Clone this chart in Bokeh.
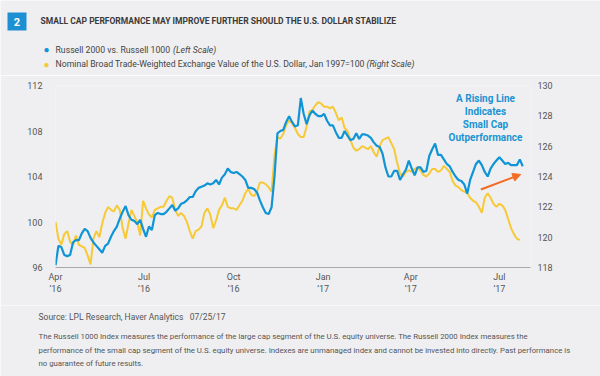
from datetime import datetime
import pandas as pd
from bokeh.plotting import figure
from bokeh.models import (Range1d, LinearAxis, FixedTicker, Label, Arrow, NormalHead,
                          BoxAnnotation, ColumnDataSource)
from bokeh.embed import file_html
from bokeh.resources import INLINE

# ---------------- data ----------------
start_date = "2016-04-01"
step = "3D"

russell_ratio = [
    96.2, 97.9, 97.8, 97.1, 97.0, 97.1, 98.2, 98.4, 98.4, 99.0,
    99.4, 99.2, 98.6, 98.2, 97.9, 97.6, 97.3, 97.9, 98.1, 98.7,
    99.2, 99.6, 100.3, 100.9, 101.4, 100.6, 100.2, 100.1, 99.8, 100.2,
    99.4, 98.7, 99.6, 99.3, 100.6, 100.8, 100.7, 100.7, 100.9, 101.2,
    101.5, 101.0, 101.2, 101.6, 101.7, 101.9, 102.2, 102.2, 102.7, 103.0,
    103.1, 103.2, 103.4, 103.3, 103.4, 103.7, 103.3, 103.9, 104.2, 104.7,
    104.4, 104.3, 104.4, 104.2, 104.0, 103.7, 103.0, 103.0, 102.9, 102.6,
    101.9, 101.3, 100.8, 100.7, 101.3, 104.0, 107.8, 108.0, 108.1, 108.8,
    109.3, 108.8, 108.4, 108.5, 110.9, 109.5, 108.6, 109.4, 109.8, 109.5,
    109.3, 109.3, 109.5, 108.9, 108.5, 108.5, 107.9, 107.4, 107.4, 108.0,
    107.6, 107.2, 107.3, 107.8, 107.3, 107.7, 107.7, 107.6, 107.4, 107.0,
    106.7, 106.6, 106.0, 104.8, 104.0, 104.0, 104.5, 104.5, 103.7, 104.2,
    104.6, 105.4, 104.7, 104.1, 104.8, 104.8, 104.4, 104.5, 105.8, 106.4,
    106.9, 105.9, 105.9, 105.5, 105.1, 104.9, 104.4, 104.0, 103.7, 103.6,
    103.3, 102.5, 103.7, 104.4, 105.1, 105.4, 105.0, 104.4, 104.0, 104.7,
    105.1, 105.4, 105.7, 105.4, 105.1, 105.2, 105.0, 105.0, 105.0, 105.5,
    104.9,
]

usd_index = [
    121.0, 119.9, 119.5, 120.2, 120.4, 119.7, 119.5, 120.1, 119.5, 119.4,
    119.3, 118.8, 118.2, 119.9, 120.4, 120.0, 120.9, 121.6, 122.0, 121.8,
    121.7, 122.1, 121.8, 120.6, 119.9, 120.9, 121.8, 121.4, 121.0, 120.1,
    122.4, 121.9, 121.5, 121.3, 121.8, 121.9, 122.0, 122.0, 122.4, 122.7,
    122.6, 121.8, 121.4, 121.6, 121.4, 121.0, 120.4, 119.9, 120.4, 120.5,
    120.7, 121.6, 121.9, 121.5, 120.6, 121.1, 121.8, 122.1, 122.6, 122.0,
    121.9, 121.9, 121.8, 122.1, 122.4, 122.9, 123.2, 122.8, 122.7, 123.0,
    123.6, 123.6, 123.5, 123.3, 123.0, 125.4, 126.6, 126.5, 126.8, 127.4,
    127.7, 127.5, 127.2, 126.8, 126.6, 126.6, 127.3, 128.3, 128.4, 128.7,
    128.9, 128.8, 128.6, 128.6, 128.5, 128.6, 128.2, 127.7, 127.9, 127.2,
    127.0, 126.4, 125.9, 125.7, 125.8, 126.0, 125.9, 125.8, 126.0, 125.6,
    125.3, 126.0, 126.4, 126.5, 126.6, 126.2, 125.8, 124.9, 124.2, 124.0,
    124.3, 124.4, 124.3, 124.5, 124.6, 124.4, 124.1, 124.0, 124.2, 124.5,
    124.5, 124.3, 124.4, 124.7, 124.5, 124.3, 123.7, 123.4, 123.3, 123.1,
    123.0, 122.9, 122.6, 122.4, 122.3, 122.0, 121.6, 122.6, 122.9, 122.6,
    122.2, 122.0, 122.2, 122.1, 121.8, 121.2, 120.6, 120.2, 119.9, 119.8,
]

x_tick_dates = ["2016-04-01", "2016-07-01", "2016-10-01", "2017-01-01", "2017-04-01", "2017-07-01"]
x_tick_labels = ["Apr\n\u201916", "Jul\n\u201916", "Oct\n\u201916", "Jan\n\u201917", "Apr\n\u201917", "Jul\n\u201917"]
left_ticks = [96, 100, 104, 108, 112]
right_ticks = [118, 120, 122, 124, 126, 128, 130]

badge_text = "2"
title_text = "SMALL CAP PERFORMANCE MAY IMPROVE FURTHER SHOULD THE U.S. DOLLAR STABILIZE"
legend_1 = "Russell 2000 vs. Russell 1000"
legend_1_scale = "(Left Scale)"
legend_2 = "Nominal Broad Trade-Weighted Exchange Value of the U.S. Dollar, Jan 1997=100"
legend_2_scale = "(Right Scale)"
note_lines = ["A Rising Line", "Indicates", "Small Cap", "Outperformance"]
source_text = "Source: LPL Research, Haver Analytics\u00a0\u00a0\u00a007/25/17"
footnote_lines = [
    "The Russell 1000 Index measures the performance of the large cap segment of the U.S. equity universe. The Russell 2000 Index measures the",
    "performance of the small cap segment of the U.S. equity universe. Indexes are unmanaged index and cannot be invested into directly. Past performance is",
    "no guarantee of future results.",
]
arrow_from = ("2017-06-12", 102.86)
arrow_to = ("2017-07-23", 104.18)

# ---------------- styling ----------------
BG = "#EFEFF1"
BLUE = "#0F94D6"
YELLOW = "#F7C936"
ORANGE = "#F26B21"
TXT = "#3A3A3A"
GREY = "#555555"
FONT = "Roboto"

W = 600
HEAD_H, MAIN_H = 75, 230
FOOT_H = 376 - HEAD_H - MAIN_H


def panel(h):
    # frame covers the whole canvas: data units == canvas pixels
    f = figure(width=W, height=h, x_range=Range1d(0, W), y_range=Range1d(h, 0),
               output_backend="svg", toolbar_location=None,
               x_axis_location=None, y_axis_location=None,
               min_border=0, min_border_left=0, min_border_right=0,
               min_border_top=0, min_border_bottom=0)
    f.background_fill_color = BG
    f.border_fill_color = BG
    f.outline_line_color = None
    f.grid.grid_line_color = None
    return f


def lab(fig, x, y, text, size, color, style="normal", align="left", units="data"):
    fig.add_layout(Label(x=x, y=y, x_units=units, y_units=units, text=text,
                         text_font=FONT, text_font_size=size, text_color=color,
                         text_font_style=style, text_align=align,
                         text_baseline="middle"))


# ---------------- header ----------------
head = panel(HEAD_H)
head.add_layout(BoxAnnotation(left=7, right=26, top=12, bottom=30,
                              fill_color="#1D90D4", fill_alpha=1, line_color=None))
lab(head, 16.5, 21, badge_text, "11px", "white", "bold", "center")
lab(head, 40, 20, title_text, "8.5px", TXT, "bold")
lab(head, 46, 49, "\u25CF", "10px", BLUE, align="center")
lab(head, 46, 63.5, "\u25CF", "10px", YELLOW, align="center")
lab(head, 55, 49, legend_1, "8.7px", "#444444")
lab(head, 172.5, 49, legend_1_scale, "8.7px", "#444444", "italic")
lab(head, 55, 63.5, legend_2, "8.7px", "#444444")
lab(head, 366, 63.5, legend_2_scale, "8.7px", "#444444", "italic")

# ---------------- main chart ----------------
blue_src = ColumnDataSource(dict(
    date=pd.date_range(start_date, periods=len(russell_ratio), freq=step),
    val=russell_ratio))
usd_src = ColumnDataSource(dict(
    date=pd.date_range(start_date, periods=len(usd_index), freq=step),
    val=usd_index))

p = figure(width=W, height=MAIN_H, x_axis_type="datetime",
           x_range=Range1d(datetime(2016, 4, 1), datetime(2017, 8, 2)),
           y_range=Range1d(96, 112),
           output_backend="svg", toolbar_location=None,
           min_border_left=55, min_border_right=70,
           min_border_top=10, min_border_bottom=38)
p.extra_y_ranges = {"usd": Range1d(118, 130)}
p.background_fill_color = BG
p.border_fill_color = BG
p.outline_line_color = None
p.grid.grid_line_color = None

p.line("date", "val", source=usd_src, y_range_name="usd", color=YELLOW, line_width=2)
p.line("date", "val", source=blue_src, color=BLUE, line_width=2.2)

tick_ms = [pd.Timestamp(d).timestamp() * 1000.0 for d in x_tick_dates]
xa = p.xaxis[0]
xa.ticker = FixedTicker(ticks=tick_ms)
xa.major_label_overrides = {t: lab_ for t, lab_ in zip(tick_ms, x_tick_labels)}
xa.axis_line_color = "#A8A8A8"
xa.axis_line_width = 1.2
xa.major_tick_line_color = None
xa.minor_tick_line_color = None
xa.major_tick_out = 0
xa.major_label_standoff = 4
xa.major_label_text_font = FONT
xa.major_label_text_font_size = "9px"
xa.major_label_text_color = GREY

ya = p.yaxis[0]
ya.ticker = FixedTicker(ticks=left_ticks)
ya.axis_line_color = None
ya.major_tick_line_color = None
ya.minor_tick_line_color = None
ya.major_tick_out = 0
ya.major_label_standoff = 13
ya.major_label_text_font = FONT
ya.major_label_text_font_size = "9px"
ya.major_label_text_color = GREY

ra = LinearAxis(y_range_name="usd", ticker=FixedTicker(ticks=right_ticks))
ra.axis_line_color = None
ra.major_tick_line_color = None
ra.minor_tick_line_color = None
ra.major_tick_out = 0
ra.major_label_standoff = 7
ra.major_label_text_font = FONT
ra.major_label_text_font_size = "9px"
ra.major_label_text_color = GREY
p.add_layout(ra, "right")

for i, line in enumerate(note_lines):
    lab(p, 485, 98.3 - HEAD_H + 13 * i, line, "10px", "#1B93D3", "bold", "center", units="canvas")

p.add_layout(Arrow(end=NormalHead(size=8, fill_color=ORANGE, line_color=ORANGE),
                   x_start=pd.Timestamp(arrow_from[0]), y_start=arrow_from[1],
                   x_end=pd.Timestamp(arrow_to[0]), y_end=arrow_to[1],
                   line_color=ORANGE, line_width=2))

# ---------------- footer ----------------
foot = panel(FOOT_H)
lab(foot, 38, 11, source_text, "8.5px", GREY)
for i, line in enumerate(footnote_lines):
    lab(foot, 38, 31 + 13.5 * i, line, "7.8px", GREY)

# three separate roots stacked on the page (no frame alignment between them)
open("out.html", "w").write(file_html([head, p, foot], INLINE))
